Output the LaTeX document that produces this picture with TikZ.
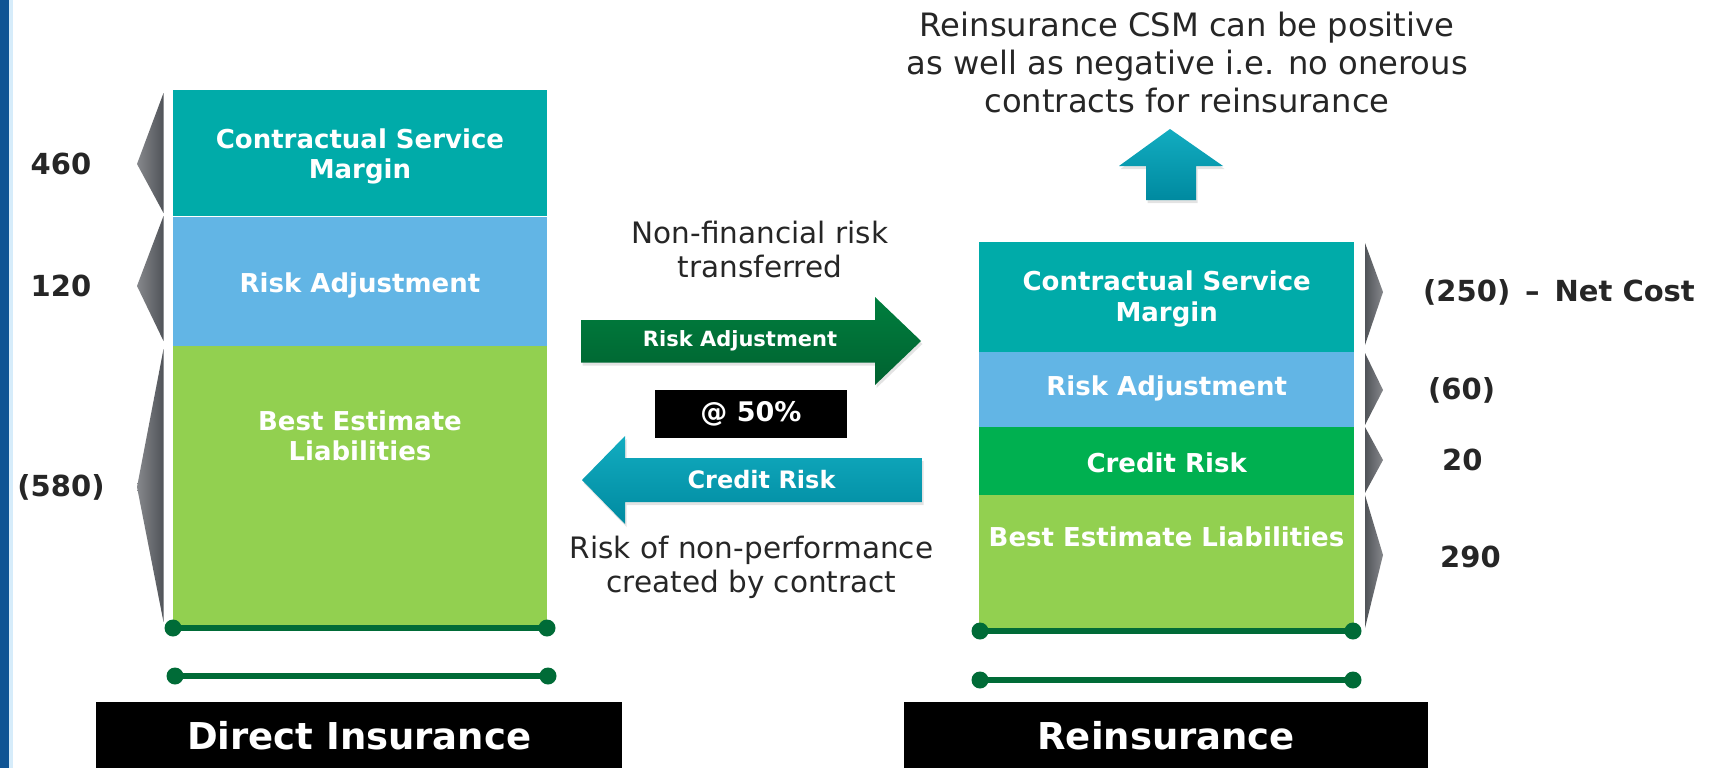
\documentclass[tikz,border=0pt]{standalone}
\usepackage{fontspec}
\setmainfont{DejaVu Sans}
\usetikzlibrary{positioning,shadows}

\definecolor{csmteal}{RGB}{0,171,169}
\definecolor{rablue}{RGB}{98,181,229}
\definecolor{belgreen}{RGB}{146,208,80}
\definecolor{crgreen}{RGB}{0,176,80}
\definecolor{bargreen}{RGB}{0,107,55}
\definecolor{txtgray}{RGB}{38,38,38}
\definecolor{stripblue}{RGB}{16,84,148}
\definecolor{striplight}{RGB}{214,236,250}
\definecolor{grnhi}{RGB}{0,126,62}
\definecolor{grnlo}{RGB}{0,98,48}
\definecolor{tealhi}{RGB}{18,172,192}
\definecolor{teallo}{RGB}{0,138,160}
\definecolor{trilight}{RGB}{134,136,140}
\definecolor{tridark}{RGB}{80,83,88}

\tikzset{
  blk/.style={inner sep=0pt, text=white, align=center, font=\fontsize{26}{30.5}\selectfont\bfseries},
  lstack/.style={inner sep=0pt, minimum width=374.5pt},
  rstack/.style={inner sep=0pt, minimum width=375pt},
  num/.style={inner sep=0pt, text=txtgray, font=\fontsize{29}{32}\selectfont\bfseries},
  note/.style={inner sep=0pt, text=txtgray, align=center, font=\fontsize{29.5}{34}\selectfont},
  capbox/.style={fill=black, text=white, inner sep=0pt, anchor=north west, font=\fontsize{37}{40}\selectfont\bfseries},
  arrtxt/.style={inner sep=0pt, text=white, font=\fontsize{21}{24}\selectfont\bfseries},
  bar/.style={line width=6pt, draw=bargreen},
  ltri/.style={left color=trilight, right color=tridark},
  rtri/.style={left color=tridark, right color=trilight},
  soft/.style={drop shadow={opacity=0.22, shadow xshift=1.5pt, shadow yshift=-3pt}}
}

\begin{document}
\begin{tikzpicture}[x=1pt,y=-1pt]
\useasboundingbox (0,0) rectangle (1712,768);
\fill[stripblue] (0,0) rectangle (9,768);
\fill[striplight] (9,0) rectangle (13,768);

\node[lstack, fill=csmteal, minimum height=126.5pt, anchor=north west] (lcsm) at (172.5,89.5) {};
\node[lstack, fill=rablue, minimum height=129pt, below=0pt of lcsm] (lra) {};
\node[lstack, fill=belgreen, minimum height=283pt, below=0pt of lra] (lbel) {};
\node[blk] (lcsmtxt) at ([yshift=-3.5pt]lcsm.center) {Contractual Service\\Margin};
\node[blk] (lratxt) at ([yshift=-4pt]lra.center) {Risk Adjustment};
\node[blk] (lbeltxt) at (360,436) {Best Estimate\\Liabilities};

\node[rstack, fill=csmteal, minimum height=109.5pt, anchor=north west] (rcsm) at (979,242) {};
\node[rstack, fill=rablue, minimum height=74.5pt, below=0pt of rcsm] (rra) {};
\node[rstack, fill=crgreen, minimum height=67.5pt, below=0pt of rra] (rcr) {};
\node[rstack, fill=belgreen, minimum height=136.5pt, below=0pt of rcr] (rbel) {};
\node[blk] (rcsmtxt) at ([yshift=-2pt]rcsm.center) {Contractual Service\\Margin};
\node[blk] (rratxt) at ([yshift=1pt]rra.center) {Risk Adjustment};
\node[blk] (rcrtxt) at ([yshift=-2pt]rcr.center) {Credit Risk};
\node[blk] (rbeltxt) at (1166.5,537) {Best Estimate Liabilities};

\coordinate (la) at (173,628);
\coordinate (lb) at (547,628);
\coordinate (lc) at (175,676);
\coordinate (ld) at (548,676);
\coordinate (ra) at (980,631);
\coordinate (rb) at (1353,631);
\coordinate (rc) at (980,680);
\coordinate (rd) at (1353,680);
\draw[bar] (la) -- (lb);
\draw[bar] (lc) -- (ld);
\draw[bar] (ra) -- (rb);
\draw[bar] (rc) -- (rd);
\foreach \p in {la,lb,lc,ld,ra,rb,rc,rd}
  \fill[bargreen] (\p) circle (8.5pt);

\node[capbox, minimum width=526pt, minimum height=66pt] (lcap) at (96,702) {Direct Insurance};
\node[capbox, minimum width=524pt, minimum height=66pt] (rcap) at (904,702) {Reinsurance};

\foreach \a/\t/\b in {93/164/213, 216/286/341, 349/487/622}
  \shade[ltri] (163.5,\a) -- (137,\t) -- (163.5,\b) -- cycle;
\foreach \a/\t/\b in {243/292/345, 353/390/425, 427/460/493, 495/555/628}
  \shade[rtri] (1365,\a) -- (1383,\t) -- (1365,\b) -- cycle;

\node[num] (n460) at (61,164) {460};
\node[num] (n120) at (61,286) {120};
\node[num] (n580) at (61,487) {(580)};
\node[num, anchor=west] (n250) at (1423,292) {(250) \,-- \,Net Cost};
\node[num, anchor=west] (n60) at (1428,390) {(60)};
\node[num, anchor=west] (n20) at (1442,460) {20};
\node[num, anchor=west] (n290) at (1440,557) {290};

\shade[soft, top color=grnhi, bottom color=grnlo] (581,320) -- (875,320) -- (875,297) -- (921,341)
  -- (875,385) -- (875,362.5) -- (581,362.5) -- cycle;
\node[arrtxt] (ratxt) at (740,341) {Risk Adjustment};
\shade[soft, top color=tealhi, bottom color=teallo] (922,458) -- (625,458) -- (625,436) -- (582,480)
  -- (625,524) -- (625,502) -- (922,502) -- cycle;
\node[arrtxt, font=\fontsize{24}{26}\selectfont\bfseries] (crtxt) at (761.5,480) {Credit Risk};
\node[fill=black, text=white, inner sep=0pt, minimum width=192pt, minimum height=47.5pt,
  font=\fontsize{27}{30}\selectfont\bfseries] (pct) at (751,414) {@ 50\%};

\node[note] (nfr) at (760,249) {Non-financial risk\\transferred};
\node[note] (rnp) at (751.5,567.5) {Risk of non-performance\\created by contract};
\node[note, font=\fontsize{32.2}{38}\selectfont] (csmnote) at (1187,62) {Reinsurance CSM can be positive\\as well as negative i.e. no onerous\\contracts for reinsurance};

\shade[soft, top color=tealhi, bottom color=teallo] (1170,129) -- (1223,166) -- (1196,166) -- (1196,200)
  -- (1146,200) -- (1146,166) -- (1119,166) -- cycle;
\end{tikzpicture}
\end{document}
